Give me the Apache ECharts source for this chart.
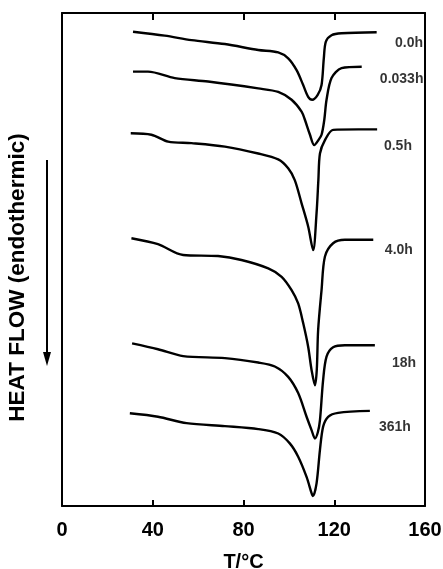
<!DOCTYPE html>
<html>
<head>
<meta charset="utf-8">
<script src="https://cdn.jsdelivr.net/npm/echarts@6/dist/echarts.min.js"></script>
<style>
html,body{margin:0;padding:0;background:#fff;}
#chart{width:443px;height:569px;}
</style>
</head>
<body>
<div id="chart"></div>
<script>
// Temperature ticks
var xTicks = [0, 40, 80, 120, 160];
// Curve names (annealing time)
var curveNames = ['0.0h', '0.033h', '0.5h', '4.0h', '18h', '361h'];
// Each curve: [T (°C), heat flow (arbitrary units, offset traces)]
var curve00h = [[31.3,96.2],[45.3,95.4],[57.1,94.5],[71.8,93.7],[86.5,92.5],[95.3,92.0],[99.7,90.8],[103.4,88.4],[106.3,85.4],[108.5,83.0],[110.3,82.4],[112.7,83.4],[114.4,85.4],[115.4,90.8],[116.3,94.2],[118.8,95.5],[123.2,95.9],[138.7,96.1]];
var curve0033h = [[31.3,88.1],[37.9,88.1],[49.7,86.8],[64.4,86.1],[86.5,84.7],[95.3,84.0],[101.2,82.4],[105.6,80.0],[107.1,78.3],[109.3,75.3],[111.2,73.2],[113.0,74.2],[114.4,75.3],[115.6,78.3],[116.6,82.4],[118.8,86.8],[123.2,88.8],[132.1,89.1]];
var curve05h = [[30.3,75.6],[39.4,75.3],[46.8,73.9],[57.1,73.6],[71.8,72.9],[86.5,71.5],[95.3,70.3],[99.7,68.5],[102.6,66.1],[105.6,61.4],[108.5,56.7],[110.7,51.9],[112.2,59.4],[113.0,66.1],[113.7,71.5],[115.9,74.2],[119.5,76.3],[130.6,76.4],[138.9,76.4]];
var curve40h = [[30.6,54.3],[42.3,53.1],[53.4,50.9],[68.8,50.7],[79.1,49.9],[90.9,48.2],[96.8,46.5],[101.2,43.8],[104.1,41.1],[106.3,37.1],[108.5,32.3],[110.0,27.6],[111.5,24.5],[112.3,27.6],[112.9,35.7],[114.4,43.8],[115.9,50.6],[119.5,53.3],[124.7,54.0],[137.2,54.0]];
var curve18h = [[30.9,33.0],[42.3,31.8],[53.4,30.4],[71.8,30.0],[86.5,29.1],[93.8,28.3],[99.7,26.2],[104.1,22.9],[107.8,18.1],[110.0,15.4],[111.5,13.7],[112.8,15.0],[113.7,17.4],[115.1,25.6],[116.6,30.3],[119.5,32.2],[124.7,32.6],[137.9,32.6]];
var curve361h = [[29.9,18.8],[42.3,18.1],[54.9,16.8],[71.8,16.2],[86.5,15.6],[95.3,14.7],[100.4,12.7],[104.1,10.0],[107.8,5.9],[110.0,2.6],[110.6,2.0],[112.2,4.6],[113.7,11.4],[115.1,16.1],[117.3,18.1],[121.7,18.9],[135.7,19.3]];
// Label anchors (left edge, vertical middle) in data units
var labelT = [146.8, 140.1, 141.9, 142.3, 145.4, 139.7];
var labelV = [93.9, 86.6, 73.0, 51.9, 29.0, 16.0];

var curves = [curve00h, curve0033h, curve05h, curve40h, curve18h, curve361h];
var FONT = '"Liberation Sans", Arial, sans-serif';

var series = curves.map(function (d, i) {
  return {
    name: curveNames[i], type: 'line', data: d, symbol: 'none', smooth: 0.3,
    lineStyle: {color: '#000', width: 2.4}, z: 3
  };
});
series.push({
  type: 'scatter', symbolSize: 0, z: 1,
  data: curveNames.map(function (n, i) { return {value: [labelT[i], labelV[i]], name: n}; }),
  label: {show: true, position: 'right', distance: 0, formatter: '{b}', color: '#000',
    fontFamily: FONT, fontWeight: 'bold', fontSize: 14}
});

var chart = echarts.init(document.getElementById('chart'), null, {renderer: 'canvas'});
chart.setOption({
  animation: false,
  backgroundColor: '#fff',
  grid: {left: 62, right: 18, top: 13, bottom: 63, containLabel: false, outerBoundsMode: 'none'},
  xAxis: [{
    type: 'value', min: 0, max: 160, interval: 40,
    axisLine: {show: true, onZero: false, lineStyle: {color: '#000', width: 2}},
    axisTick: {show: true, inside: true, length: 6, lineStyle: {color: '#000', width: 2}},
    axisLabel: {color: '#000', fontFamily: FONT, fontWeight: 'bold', fontSize: 20, margin: 14,
      formatter: function (v) { return xTicks.indexOf(v) >= 0 ? String(v) : ''; }},
    splitLine: {show: false},
    name: 'T/°C', nameLocation: 'middle', nameGap: 46,
    nameTextStyle: {color: '#000', fontFamily: FONT, fontWeight: 'bold', fontSize: 20}
  }, {
    type: 'value', position: 'top', min: 0, max: 160, interval: 40,
    axisLine: {show: true, onZero: false, lineStyle: {color: '#000', width: 2}},
    axisTick: {show: true, inside: true, length: 7, lineStyle: {color: '#000', width: 2}},
    axisLabel: {show: false}, splitLine: {show: false}
  }],
  yAxis: [{
    type: 'value', min: 0, max: 100,
    axisLine: {show: true, onZero: false, lineStyle: {color: '#000', width: 2}},
    axisTick: {show: false}, axisLabel: {show: false}, splitLine: {show: false},
    name: 'HEAT FLOW (endothermic)', nameLocation: 'middle', nameGap: 33, nameRotate: 90,
    nameTextStyle: {color: '#000', fontFamily: FONT, fontWeight: 'bold', fontSize: 22.5,
      padding: [0, 36, 0, 0]}
  }, {
    type: 'value', position: 'right', min: 0, max: 100,
    axisLine: {show: true, onZero: false, lineStyle: {color: '#000', width: 2}},
    axisTick: {show: false}, axisLabel: {show: false}, splitLine: {show: false}
  }],
  graphic: [{
    type: 'line', shape: {x1: 47, y1: 160, x2: 47, y2: 356},
    style: {stroke: '#000', lineWidth: 2}
  }, {
    type: 'polygon', shape: {points: [[43, 352], [51, 352], [47, 366]]},
    style: {fill: '#000'}
  }],
  series: series
});
</script>
</body>
</html>
